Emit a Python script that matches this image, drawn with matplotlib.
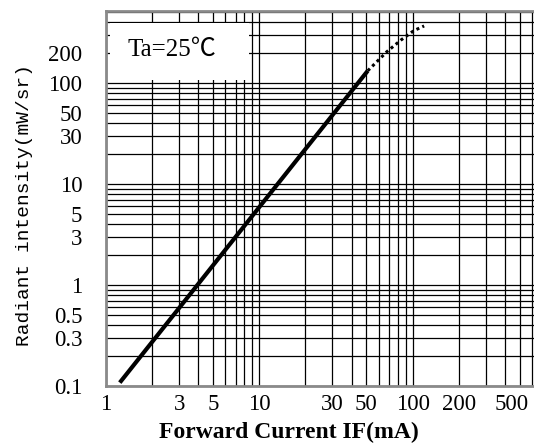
import numpy as np
import matplotlib.pyplot as plt
import matplotlib.transforms as mtransforms
from matplotlib.patches import Rectangle
from matplotlib.ticker import FixedLocator, NullFormatter

# measured curve, solid part then dotted extrapolation
if_solid = [1.23, 3.1, 10, 30, 51]
iv_solid = [0.108, 0.63, 5.9, 48, 132]
if_dotted = [51, 68, 84, 102, 119]
iv_dotted = [132, 204, 266, 330, 367]

x_labels = [1, 3, 5, 10, 30, 50, 100, 200, 500]
y_labels = [0.1, 0.3, 0.5, 1, 3, 5, 10, 30, 50, 100, 200]

x_grid = [k * 10.0 ** e for e in range(0, 3) for k in range(1, 10)]
y_grid = [k * 10.0 ** e for e in range(-1, 3) for k in range(1, 10)]

serif = ['Liberation Serif', 'DejaVu Serif']

fig = plt.figure(figsize=(5.34, 4.43), dpi=100)
ax = fig.add_axes([106 / 534, 1 - 386 / 443, 428 / 534, 375 / 443])
ax.set_xscale('log')
ax.set_yscale('log')
ax.set_xlim(1, 620)
ax.set_ylim(0.1, 516)

ax.xaxis.set_major_locator(FixedLocator(x_labels))
ax.yaxis.set_major_locator(FixedLocator(y_labels))
ax.xaxis.set_minor_locator(FixedLocator(x_grid))
ax.yaxis.set_minor_locator(FixedLocator(y_grid))
ax.xaxis.set_minor_formatter(NullFormatter())
ax.yaxis.set_minor_formatter(NullFormatter())
ax.xaxis.remove_overlapping_locs = False
ax.yaxis.remove_overlapping_locs = False
ax.set_xticklabels([str(v) for v in x_labels], family=serif, fontsize=16.5)
ax.set_yticklabels([f"{v:g}" for v in y_labels], family=serif, fontsize=16.5)
ax.tick_params(which='both', length=0)
ax.tick_params(axis='x', pad=6)
ax.tick_params(axis='y', pad=17)

# last x label sits against the right edge, pull it in a bit
last = ax.get_xticklabels()[-1]
last.set_transform(last.get_transform() +
                   mtransforms.ScaledTranslation(-6 / 72, 0, fig.dpi_scale_trans))

ax.grid(False, which='major')
ax.grid(True, which='minor', color='black', linewidth=0.9)

for s in ax.spines.values():
    s.set_color('#8a8a8a')
    s.set_linewidth(2)
ax.spines['right'].set_visible(False)

# white label box over the grid
ax.add_patch(Rectangle((0.009, 0.816), 0.325, 0.152, transform=ax.transAxes,
                       facecolor='white', edgecolor='none', zorder=3))
ax.text(0.155, 0.895, 'Ta=25℃', transform=ax.transAxes, ha='center', va='center',
        family=['Liberation Serif', 'Noto Sans CJK SC'], fontsize=18, zorder=4)

ax.plot(if_solid, iv_solid, color='black', linewidth=3, solid_capstyle='butt', zorder=5)
ax.plot(if_dotted, iv_dotted, color='black', linewidth=2.2, linestyle=(0, (1, 1.1)), zorder=5)

ax.set_xlabel('Forward Current IF(mA)', family=serif, fontweight='bold', fontsize=17)
ax.xaxis.set_label_coords(0.428, -0.095)
ax.set_ylabel('Radiant intensity(mW/sr)', family='Liberation Mono', fontsize=14)
ax.yaxis.set_label_coords(-0.17, 0.483)

fig.savefig('out.png', dpi=100)
